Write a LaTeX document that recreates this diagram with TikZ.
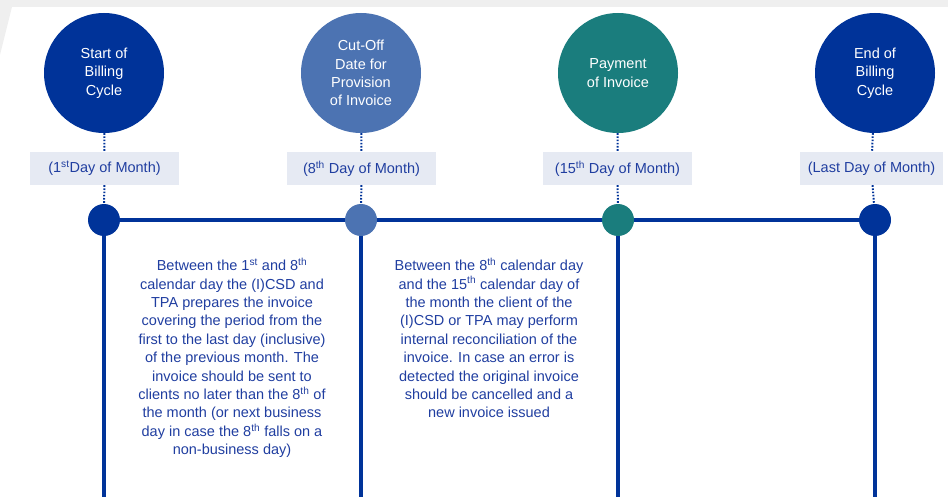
\documentclass[tikz,border=0pt]{standalone}
\usepackage{fontspec}
\setmainfont{Liberation Sans}
\usetikzlibrary{positioning}

\definecolor{darkblue}{RGB}{0,51,153}
\definecolor{midblue}{RGB}{76,115,178}
\definecolor{tealgreen}{RGB}{26,125,125}
\definecolor{boxgray}{RGB}{230,234,243}
\definecolor{textblue}{RGB}{32,62,160}
\definecolor{framegray}{RGB}{239,239,239}

\tikzset{
  milestone/.style={circle, minimum size=120pt, inner sep=0pt, text=white,
    align=center, font=\fontsize{14.5}{18.3}\selectfont},
  datebox/.style={fill=boxgray, text=textblue, minimum width=149pt,
    minimum height=33pt, inner sep=0pt, font=\fontsize{14.5}{18}\selectfont},
  dot/.style={circle, minimum size=32pt, inner sep=0pt},
  dotline/.style={darkblue, line width=2pt, dash pattern=on 1.6pt off 1.6pt},
  note/.style={text=textblue, align=center, inner sep=0pt,
    font=\fontsize{14.5}{18.4}\selectfont},
}

\begin{document}
\begin{tikzpicture}[x=1pt, y=-1pt]
\useasboundingbox (0,0) rectangle (948,497);
% grey frame at the top left
\fill [framegray] (0,0) -- (948,0) -- (948,7) -- (12,7) -- (0,55) -- cycle;

% milestones
\node [milestone, fill=darkblue] (start) at (104,73) {Start of\\Billing\\Cycle};
\node [milestone, fill=midblue] (cutoff) at (361,73) {Cut-Off\\Date for\\Provision\\of Invoice};
\node [milestone, fill=tealgreen] (payment) at (618,73) {Payment\\of Invoice};
\node [milestone, fill=darkblue] (finish) at (875,73) {End of\\Billing\\Cycle};

% dates
\node [datebox] (dstart) at (104.5,168.5) {(1\textsuperscript{st}Day of Month)};
\node [datebox] (dcutoff) at (361.5,168.5) {(8\textsuperscript{th} Day of Month)};
\node [datebox] (dpayment) at (617.5,168.5) {(15\textsuperscript{th} Day of Month)};
\node [datebox, minimum width=143pt] (dfinish) at (871.5,168.5) {(Last Day of Month)};

% timeline
\draw [darkblue, line width=4pt] (104,220) -- (875,220);
\foreach \n/\x/\c in {start/104/darkblue, cutoff/361/midblue, payment/618/tealgreen, finish/875/darkblue} {
    \coordinate (b\n) at (\x,497);
    \draw [darkblue, line width=3.5pt] (\x,220) -- (b\n);
    \node [dot, fill=\c] (t\n) at (\x,220) {};
    \draw [dotline] (\n) -- (d\n);
    \draw [dotline] (d\n) -- (t\n);
}

% descriptions
\node [note, anchor=north] (nstart) at (232,258) {Between the 1\textsuperscript{st} and 8\textsuperscript{th}\\
calendar day the (I)CSD and\\TPA prepares the invoice\\covering the period from the\\
first to the last day (inclusive)\\of the previous month. The\\invoice should be sent to\\
clients no later than the 8\textsuperscript{th} of\\the month (or next business\\
day in case the 8\textsuperscript{th} falls on a\\non-business day)};
\node [note, anchor=north] (ncutoff) at (489,258) {Between the 8\textsuperscript{th} calendar day\\
and the 15\textsuperscript{th} calendar day of\\the month the client of the\\(I)CSD or TPA may perform\\
internal reconciliation of the\\invoice. In case an error is\\detected the original invoice\\
should be cancelled and a\\new invoice issued};
\end{tikzpicture}
\end{document}
